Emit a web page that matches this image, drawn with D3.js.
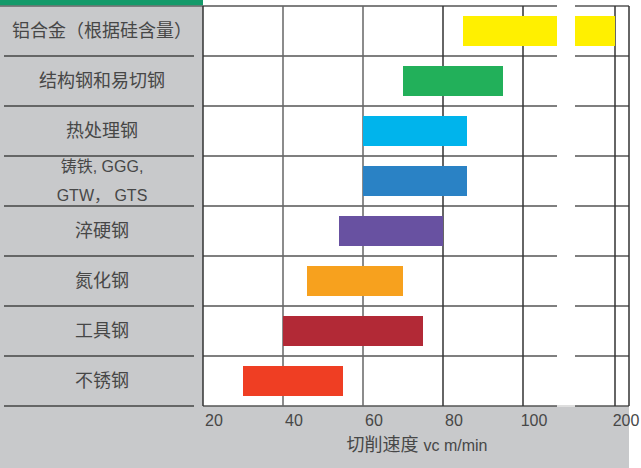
<!DOCTYPE html>
<html>
<head>
<meta charset="utf-8">
<script src="https://cdn.jsdelivr.net/npm/d3@7"></script>
<style>
  body { margin: 0; background: #fff; }
  svg { display: block; }
</style>
</head>
<body>
<div id="chart"></div>
<script>
// categories top to bottom, "\n" splits a label into two lines
const categories = [
  "铝合金（根据硅含量）",
  "结构钢和易切钢",
  "热处理钢",
  "铸铁, GGG,\nGTW， GTS",
  "淬硬钢",
  "氮化钢",
  "工具钢",
  "不锈钢",
];
// cutting speed range vc m/min
const speedMin = [85, 70, 60, 60, 54, 46, 40, 30];
const speedMax = [200, 95, 86, 86, 80, 70, 75, 55];
const barColors = [
  "#fff000", "#22b05a", "#00b4ec", "#2a82c5",
  "#6851a1", "#f7a11e", "#b22936", "#ef3e23",
];
const tickValues = [20, 40, 60, 80, 100, 200];
// broken axis: the values between these two are skipped
const axisBreak = [108.5, 190];

class SpeedChart {
  constructor(_config) {
    this.config = {
      parentElement: "#chart",
      containerWidth: 641,
      containerHeight: 468,
      panelWidth: 203, // grey label panel
      plotTop: 6,
      plotRight: 629,
      plotBottom: 406,
      gapWidth: 18,
      xMax: 203.5,
    };
    this.initVis();
  }
  initVis() {
    let vis = this;
    const c = vis.config;

    vis.svg = d3
      .select(c.parentElement)
      .append("svg")
      .attr("width", c.containerWidth)
      .attr("height", c.containerHeight);

    // piecewise scale with a gap for the axis break
    const shown = axisBreak[0] - tickValues[0] + (c.xMax - axisBreak[1]);
    const k = (c.plotRight - c.panelWidth - c.gapWidth) / shown;
    const xBreak0 = c.panelWidth + (axisBreak[0] - tickValues[0]) * k;
    vis.x = d3
      .scaleLinear()
      .domain([tickValues[0], axisBreak[0], axisBreak[1], c.xMax])
      .range([c.panelWidth, xBreak0, xBreak0 + c.gapWidth, c.plotRight]);

    vis.y = d3
      .scaleBand()
      .domain(categories)
      .range([c.plotTop, c.plotBottom])
      .paddingInner(0.4)
      .paddingOuter(0.2);

    this.updateVis();
  }
  updateVis() {
    let vis = this;
    const c = vis.config;
    const x = vis.x;
    const y = vis.y;
    const step = y.step();
    const lineColor = "#555";
    const textColor = "#474747";
    const font = "'Liberation Sans', 'Noto Sans CJK SC', sans-serif";

    // grey background (label panel + bottom area)
    vis.svg
      .append("rect")
      .attr("x", 0)
      .attr("y", c.plotTop)
      .attr("width", c.plotRight)
      .attr("height", c.containerHeight - c.plotTop)
      .attr("fill", "#c8c9cb");

    // white plot area
    vis.svg
      .append("rect")
      .attr("x", c.panelWidth)
      .attr("y", c.plotTop)
      .attr("width", c.plotRight - c.panelWidth)
      .attr("height", c.plotBottom - c.plotTop)
      .attr("fill", "#fff");

    // green strip on top of the label panel
    vis.svg
      .append("rect")
      .attr("x", 0)
      .attr("y", 0)
      .attr("width", c.panelWidth)
      .attr("height", c.plotTop - 0.5)
      .attr("fill", "#149a6a");

    // row boundaries
    const edges = d3.range(categories.length + 1).map((i) => c.plotTop + i * step);

    // horizontal grid lines in the plot
    vis.svg
      .selectAll("hgrid")
      .data(edges)
      .enter()
      .append("line")
      .attr("x1", c.panelWidth)
      .attr("x2", c.plotRight)
      .attr("y1", (d) => d)
      .attr("y2", (d) => d)
      .attr("stroke", lineColor)
      .attr("stroke-width", 1.5);

    // top line under the green strip
    vis.svg
      .append("line")
      .attr("x1", 0)
      .attr("x2", c.panelWidth)
      .attr("y1", c.plotTop)
      .attr("y2", c.plotTop)
      .attr("stroke", "#333")
      .attr("stroke-width", 1.2);

    // separators in the label panel
    vis.svg
      .selectAll("sep")
      .data(edges.slice(1))
      .enter()
      .append("line")
      .attr("x1", 4)
      .attr("x2", 194)
      .attr("y1", (d) => d)
      .attr("y2", (d) => d)
      .attr("stroke", "#444")
      .attr("stroke-width", 1.5);

    // vertical grid lines + right border
    vis.svg
      .selectAll("vgrid")
      .data(tickValues.concat([c.xMax]))
      .enter()
      .append("line")
      .attr("x1", (d) => x(d))
      .attr("x2", (d) => x(d))
      .attr("y1", c.plotTop)
      .attr("y2", c.plotBottom)
      .attr("stroke", (d) => (d === 40 || d === 60 ? "#666" : "#333"))
      .attr("stroke-width", 1.5);

    // bars
    vis.svg
      .selectAll("bars")
      .data(categories)
      .enter()
      .append("rect")
      .attr("x", (d, i) => x(speedMin[i]))
      .attr("y", (d) => y(d))
      .attr("width", (d, i) => x(speedMax[i]) - x(speedMin[i]))
      .attr("height", y.bandwidth())
      .attr("fill", (d, i) => barColors[i]);

    // axis break gap
    vis.svg
      .append("rect")
      .attr("x", x(axisBreak[0]))
      .attr("y", 0)
      .attr("width", x(axisBreak[1]) - x(axisBreak[0]))
      .attr("height", c.plotBottom - 1)
      .attr("fill", "#fff");
    vis.svg
      .append("rect")
      .attr("x", x(axisBreak[0]))
      .attr("y", c.plotBottom - 1)
      .attr("width", x(axisBreak[1]) - x(axisBreak[0]))
      .attr("height", 2)
      .attr("fill", "#dedede");

    // category labels
    const labels = vis.svg
      .selectAll("catlabels")
      .data(categories)
      .enter()
      .append("text")
      .attr("x", 102)
      .attr("y", (d) => y(d) + y.bandwidth() / 2)
      .attr("text-anchor", "middle")
      .style("font-family", font)
      .style("font-size", "18px")
      .attr("fill", textColor);
    labels.each(function (d) {
      const lines = d.split("\n");
      const t = d3.select(this);
      lines.forEach((line, i) => {
        t.append("tspan")
          .attr("x", 102)
          .attr("dy", i === 0 ? (lines.length === 1 ? "0.35em" : "-0.55em") : "1.8em")
          .style("font-size", lines.length > 1 ? "16px" : null)
          .text(line);
      });
    });

    // tick labels (shifted right of their grid line)
    vis.svg
      .selectAll("ticklabels")
      .data(tickValues)
      .enter()
      .append("text")
      .attr("x", (d) => x(d) + 11)
      .attr("y", 420)
      .attr("dy", "0.35em")
      .attr("text-anchor", "middle")
      .style("font-family", font)
      .style("font-size", "16px")
      .attr("fill", textColor)
      .text((d) => d);

    // axis title
    const title = vis.svg
      .append("text")
      .attr("x", 417)
      .attr("y", 445)
      .attr("dy", "0.35em")
      .attr("text-anchor", "middle")
      .style("font-family", font)
      .style("font-size", "18px")
      .attr("fill", textColor);
    title.append("tspan").text("切削速度 ");
    title
      .append("tspan")
      .style("font-size", "16px")
      .text("vc m/min");
  }
}

new SpeedChart();
</script>
</body>
</html>
